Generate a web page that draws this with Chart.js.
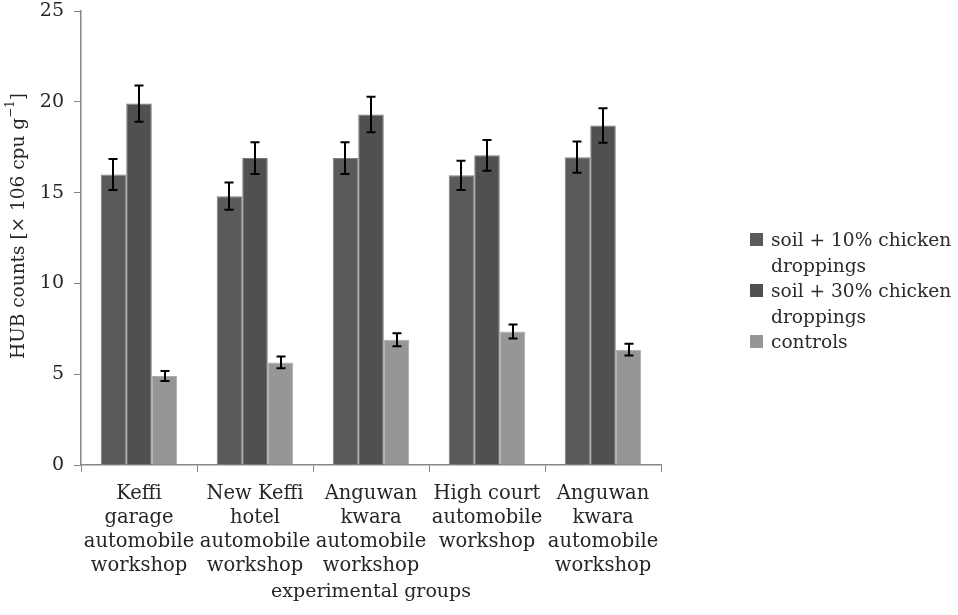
<!DOCTYPE html>
<html>
<head>
<meta charset="utf-8">
<script src="https://cdn.jsdelivr.net/npm/chart.js@4/dist/chart.umd.min.js"></script>
<style>
  html, body { margin: 0; padding: 0; background: #fff; }
  #wrap { position: relative; width: 958px; height: 615px; }
  #legend {
    position: absolute; left: 750px; top: 227px; width: 208px;
    font-family: "DejaVu Serif", serif; font-size: 18.6px; color: #2b2b2b;
    line-height: 25.5px; list-style: none; margin: 0; padding: 0;
  }
  #legend li { position: relative; padding-left: 21px; }
  #legend li span.box {
    position: absolute; left: 0; top: 6px; width: 13px; height: 13px;
  }
</style>
</head>
<body>
<div id="wrap">
  <canvas id="chart" width="958" height="615"></canvas>
  <ul id="legend"></ul>
</div>
<script>
// Sampling sites (multi-line tick labels)
const categories = [
  ["Keffi", "garage", "automobile", "workshop"],
  ["New Keffi", "hotel", "automobile", "workshop"],
  ["Anguwan", "kwara", "automobile", "workshop"],
  ["High court", "automobile", "workshop"],
  ["Anguwan", "kwara", "automobile", "workshop"]
];

const seriesNames = ["soil + 10% chicken droppings", "soil + 30% chicken droppings", "controls"];

// HUB counts, mean values
const soil10 = [16.0, 14.8, 16.9, 15.95, 16.95];
const soil30 = [19.9, 16.9, 19.3, 17.05, 18.7];
const controls = [4.9, 5.65, 6.9, 7.35, 6.35];

// Standard errors (half-length of the error bars)
const soil10Err = [0.85, 0.75, 0.87, 0.8, 0.86];
const soil30Err = [1.0, 0.87, 0.98, 0.85, 0.95];
const controlsErr = [0.28, 0.32, 0.36, 0.38, 0.32];

const yTicks = [0, 5, 10, 15, 20, 25];

// Y axis title pieces: main text, superscript exponent, closing bracket
const yTitleParts = ["HUB counts [× 106 cpu g", "−1", "]"];

const FONT = "DejaVu Serif";
const AXIS_COLOR = "#878787";
const TEXT_COLOR = "#262626";

const errorBars = {
  id: "errorBars",
  afterDatasetsDraw(chart) {
    const ctx = chart.ctx;
    const yScale = chart.scales.y;
    ctx.save();
    ctx.strokeStyle = "#000";
    ctx.lineWidth = 2;
    chart.data.datasets.forEach((ds, di) => {
      const meta = chart.getDatasetMeta(di);
      meta.data.forEach((bar, i) => {
        const v = ds.data[i], e = ds.errors[i];
        const yTop = yScale.getPixelForValue(v + e);
        const yBot = yScale.getPixelForValue(v - e);
        const x = Math.round(bar.x);
        const cap = 4.5;
        ctx.beginPath();
        ctx.moveTo(x, yTop); ctx.lineTo(x, yBot);
        ctx.moveTo(x - cap, yTop); ctx.lineTo(x + cap, yTop);
        ctx.moveTo(x - cap, yBot); ctx.lineTo(x + cap, yBot);
        ctx.stroke();
      });
    });
    ctx.restore();
  }
};

// Rotated y-axis title with a superscript exponent
const yAxisTitle = {
  id: "yAxisTitle",
  afterDraw(chart) {
    const ctx = chart.ctx;
    const main = "18.5px '" + FONT + "'";
    const sup = "12px '" + FONT + "'";
    ctx.save();
    ctx.font = main;
    const w0 = ctx.measureText(yTitleParts[0]).width;
    const w2 = ctx.measureText(yTitleParts[2]).width;
    ctx.font = sup;
    const w1 = ctx.measureText(yTitleParts[1]).width;
    const total = w0 + w1 + w2;
    ctx.translate(19, 226);
    ctx.rotate(-Math.PI / 2);
    ctx.fillStyle = TEXT_COLOR;
    ctx.textBaseline = "middle";
    ctx.textAlign = "left";
    let x = -total / 2;
    ctx.font = main;
    ctx.fillText(yTitleParts[0], x, 0);
    x += w0;
    ctx.font = sup;
    ctx.fillText(yTitleParts[1], x, -8);
    x += w1;
    ctx.font = main;
    ctx.fillText(yTitleParts[2], x, 0);
    ctx.restore();
  }
};

const chart = new Chart(document.getElementById("chart"), {
  type: "bar",
  data: {
    labels: categories,
    datasets: [
      { label: seriesNames[0], data: soil10, errors: soil10Err,
        backgroundColor: "#5a5a5a", borderColor: "#808080", borderWidth: 1 },
      { label: seriesNames[1], data: soil30, errors: soil30Err,
        backgroundColor: "#505050", borderColor: "#777777", borderWidth: 1 },
      { label: seriesNames[2], data: controls, errors: controlsErr,
        backgroundColor: "#969696", borderColor: "#adadad", borderWidth: 1 }
    ]
  },
  options: {
    responsive: false,
    animation: false,
    devicePixelRatio: 1,
    layout: { padding: { top: 11, right: 297, left: 0, bottom: 0 } },
    datasets: { bar: { categoryPercentage: 0.66, barPercentage: 1.0 } },
    plugins: {
      legend: { display: false },
      tooltip: { enabled: false }
    },
    scales: {
      x: {
        grid: { display: true, drawOnChartArea: false, drawTicks: true, tickLength: 7,
                color: AXIS_COLOR, offset: true },
        border: { color: AXIS_COLOR, width: 1.5 },
        ticks: { color: TEXT_COLOR, font: { family: FONT, size: 19.5, lineHeight: 1.23 },
                 padding: 10, maxRotation: 0, autoSkip: false },
        title: { display: true, text: "experimental groups", color: TEXT_COLOR,
                 font: { family: FONT, size: 19 }, padding: { top: 0, bottom: 12 } },
        afterFit(scale) { scale.height = 150; }
      },
      y: {
        min: 0, max: 25,
        afterBuildTicks(scale) { scale.ticks = yTicks.map(v => ({ value: v })); },
        grid: { display: true, drawOnChartArea: false, drawTicks: true, tickLength: 7,
                color: AXIS_COLOR },
        border: { color: AXIS_COLOR, width: 1.5 },
        ticks: { color: TEXT_COLOR, font: { family: FONT, size: 19, lineHeight: 0.05 }, padding: 10 },
        title: { display: false },
        afterFit(scale) { scale.width = 81; }
      }
    }
  },
  plugins: [errorBars, yAxisTitle]
});

// HTML legend built from the datasets
const legendEl = document.getElementById("legend");
chart.data.datasets.forEach(ds => {
  const li = document.createElement("li");
  const box = document.createElement("span");
  box.className = "box";
  box.style.background = ds.backgroundColor;
  li.appendChild(box);
  li.appendChild(document.createTextNode(ds.label));
  legendEl.appendChild(li);
});
</script>
</body>
</html>
